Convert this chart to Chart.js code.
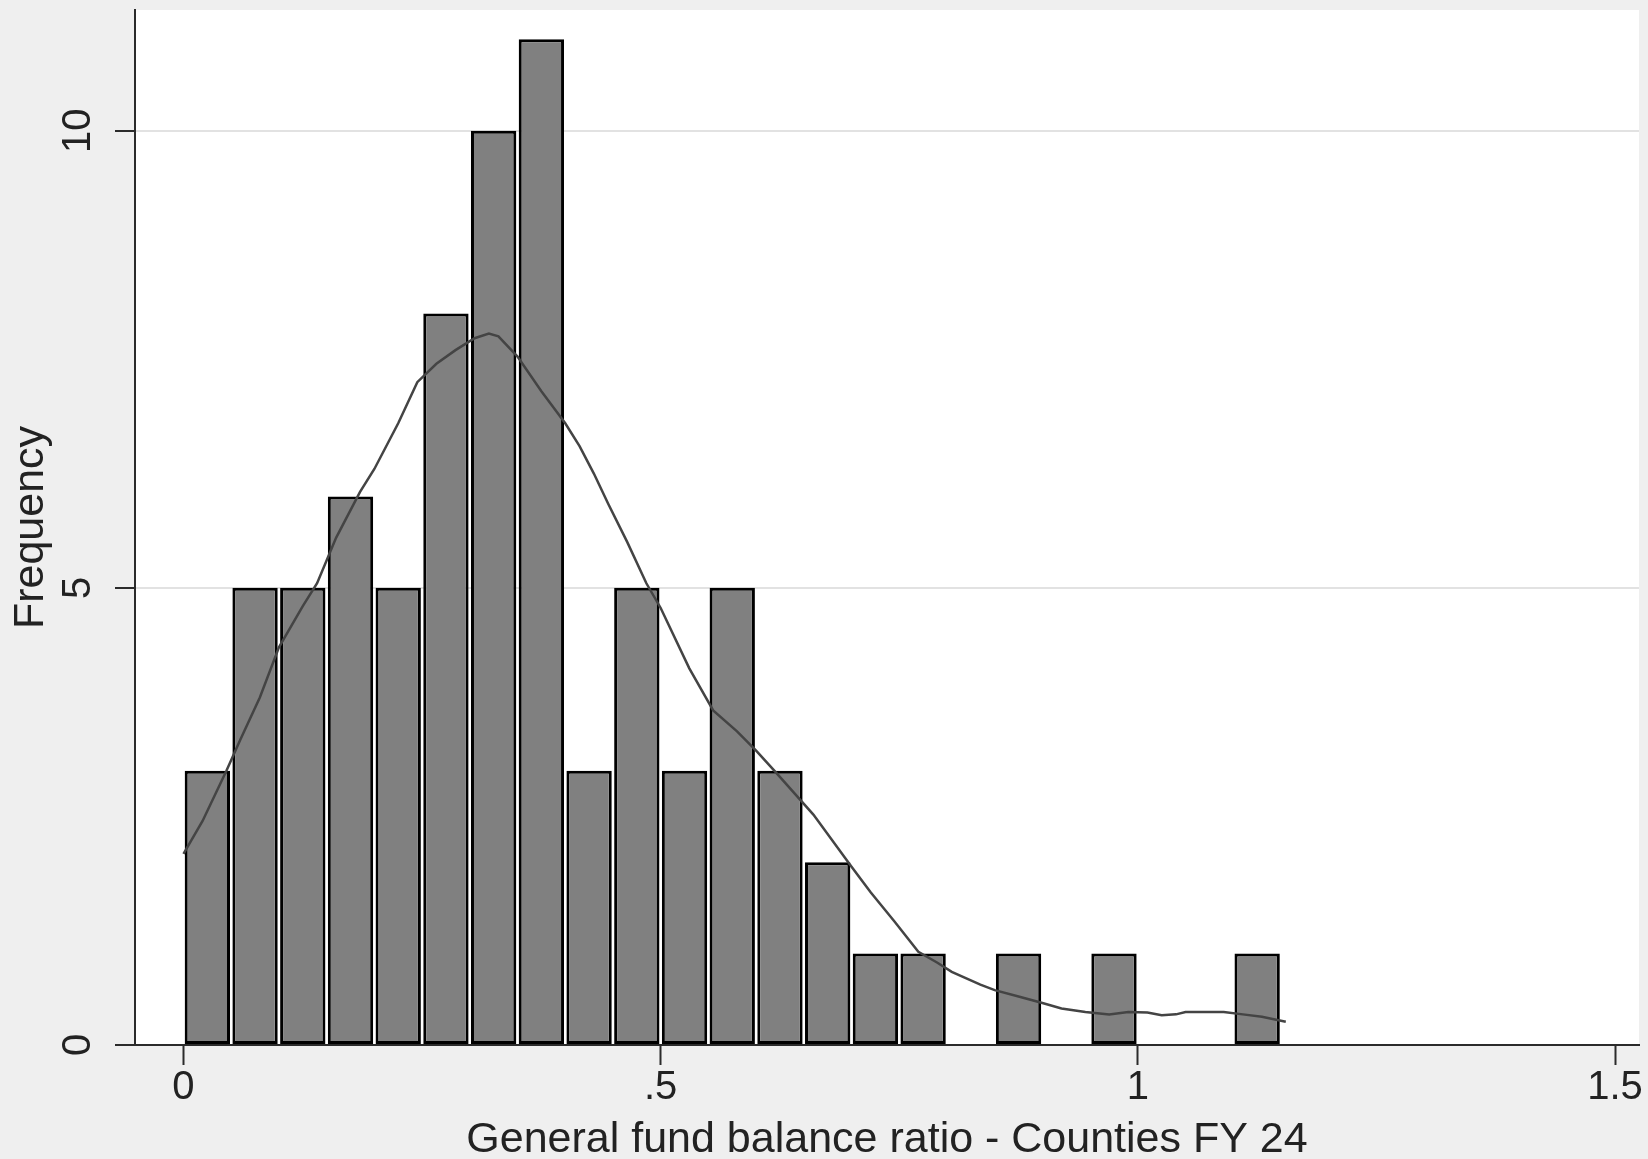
<!DOCTYPE html>
<html lang="en">
<head>
    <meta charset="UTF-8">
    <title>General fund balance ratio - Counties FY 24</title>
    <script src="https://cdn.jsdelivr.net/npm/chart.js"></script>
    <style>
        * { margin: 0; padding: 0; box-sizing: border-box; }
        body { background: #efefef; width: 1648px; height: 1159px; overflow: hidden; }
        .wrap { position: relative; width: 1648px; height: 1159px; }
    </style>
</head>
<body>
    <div class="wrap"><canvas id="hist" width="1648" height="1159"></canvas></div>
    <script>
        // histogram bins (lower edge) and counts, width .05
        const binLow = [0, 0.05, 0.10, 0.15, 0.20, 0.25, 0.30, 0.35, 0.40, 0.45, 0.50, 0.55,
                        0.60, 0.65, 0.70, 0.75, 0.80, 0.85, 0.90, 0.95, 1.00, 1.05, 1.10];
        const counts = [3, 5, 5, 6, 5, 8, 10, 11, 3, 5, 3, 5,
                        3, 2, 1, 1, 0, 1, 0, 1, 0, 0, 1];
        const binWidth = 0.05;

        // kernel density overlay (frequency scale)
        const kdeX = [0.000, 0.020, 0.045, 0.060, 0.080, 0.100, 0.125, 0.140, 0.160, 0.185,
                      0.200, 0.225, 0.245, 0.265, 0.285, 0.305, 0.320, 0.330, 0.350, 0.375,
                      0.400, 0.415, 0.430, 0.445, 0.465, 0.485, 0.500, 0.530, 0.555, 0.580,
                      0.600, 0.620, 0.660, 0.700, 0.720, 0.745, 0.770, 0.790, 0.805, 0.835,
                      0.850, 0.875, 0.900, 0.920, 0.945, 0.970, 0.990, 1.010, 1.025, 1.040,
                      1.050, 1.090, 1.110, 1.130, 1.155];
        const kdeY = [2.09, 2.45, 3.00, 3.35, 3.80, 4.35, 4.80, 5.05, 5.55, 6.05,
                      6.30, 6.80, 7.25, 7.45, 7.60, 7.73, 7.78, 7.75, 7.53, 7.15,
                      6.80, 6.55, 6.25, 5.92, 5.50, 5.05, 4.78, 4.12, 3.66, 3.43,
                      3.22, 2.99, 2.52, 1.95, 1.67, 1.35, 1.02, 0.90, 0.80, 0.66,
                      0.60, 0.53, 0.46, 0.40, 0.36, 0.335, 0.36, 0.355, 0.325, 0.335,
                      0.36, 0.36, 0.335, 0.31, 0.255];

        const xTicks = [0, 0.5, 1, 1.5];
        const yTicks = [0, 5, 10];
        const xTitle = 'General fund balance ratio - Counties FY 24';
        const yTitle = 'Frequency';

        const barData = binLow.map((lo, i) => ({ x: lo + binWidth / 2, y: counts[i] }));
        const kdeData = kdeX.map((x, i) => ({ x: x, y: kdeY[i] }));

        const fontFam = '"Liberation Sans", Arial, sans-serif';
        const axisCol = '#2b2b2b';

        // white plot region on the grey page
        const plotBg = {
            id: 'plotBg',
            beforeDraw(chart) {
                const { ctx, chartArea: a } = chart;
                ctx.save();
                ctx.fillStyle = '#ffffff';
                ctx.fillRect(a.left, a.top, a.right - a.left, a.bottom - a.top);
                ctx.restore();
            }
        };

        new Chart(document.getElementById('hist'), {
            type: 'bar',
            data: {
                datasets: [
                    {
                        type: 'line',
                        data: kdeData,
                        borderColor: '#444444',
                        borderWidth: 2.5,
                        pointRadius: 0,
                        tension: 0,
                        fill: false,
                        order: 0
                    },
                    {
                        type: 'bar',
                        data: barData,
                        backgroundColor: '#808080',
                        borderColor: '#000000',
                        borderWidth: ctx => (ctx.raw && ctx.raw.y > 0 ? 3 : 0),
                        borderSkipped: false,
                        barPercentage: 0.95,
                        categoryPercentage: 1.0,
                        order: 1
                    }
                ]
            },
            options: {
                responsive: false,
                animation: false,
                events: [],
                layout: { padding: { top: 10, right: 9, left: 0, bottom: 0 } },
                plugins: { legend: { display: false }, tooltip: { enabled: false } },
                scales: {
                    x: {
                        type: 'linear',
                        offset: false,
                        min: -0.0508,
                        max: 1.5251,
                        afterBuildTicks: s => { s.ticks = xTicks.map(v => ({ value: v })); },
                        afterFit: s => { s.height = 114; s.paddingLeft = 0; s.paddingRight = 0; },
                        border: { display: true, color: axisCol, width: 2 },
                        grid: {
                            display: true,
                            offset: false,
                            drawOnChartArea: false,
                            drawTicks: true,
                            tickLength: 20,
                            tickColor: axisCol,
                            tickWidth: 2
                        },
                        ticks: {
                            padding: 3,
                            maxRotation: 0,
                            autoSkip: false,
                            color: '#222',
                            font: { family: fontFam, size: 40, lineHeight: 1 },
                            callback: v => (v > 0 && v < 1 ? String(v).replace(/^0/, '') : String(v))
                        },
                        title: {
                            display: true,
                            text: xTitle,
                            color: '#222',
                            padding: 0,
                            font: { family: fontFam, size: 43, lineHeight: 0.9 }
                        }
                    },
                    y: {
                        type: 'linear',
                        min: 0,
                        max: 11.32,
                        afterBuildTicks: s => { s.ticks = yTicks.map(v => ({ value: v })); },
                        afterFit: s => { s.width = 135; s.paddingTop = 0; s.paddingBottom = 0; },
                        border: { display: true, color: axisCol, width: 2 },
                        grid: {
                            display: true,
                            drawOnChartArea: true,
                            color: c => (c.tick && c.tick.value === 0 ? 'rgba(0,0,0,0)' : '#e2e2e2'),
                            lineWidth: 2,
                            drawTicks: true,
                            tickLength: 20,
                            tickColor: axisCol,
                            tickWidth: 2
                        },
                        ticks: {
                            padding: 14,
                            minRotation: 90,
                            maxRotation: 90,
                            crossAlign: 'center',
                            color: '#222',
                            font: { family: fontFam, size: 40, lineHeight: 1 }
                        },
                        title: {
                            display: true,
                            text: yTitle,
                            color: '#222',
                            padding: { top: 10, bottom: 0 },
                            font: { family: fontFam, size: 43, lineHeight: 1 }
                        }
                    }
                }
            },
            plugins: [plotBg]
        });
    </script>
</body>
</html>
